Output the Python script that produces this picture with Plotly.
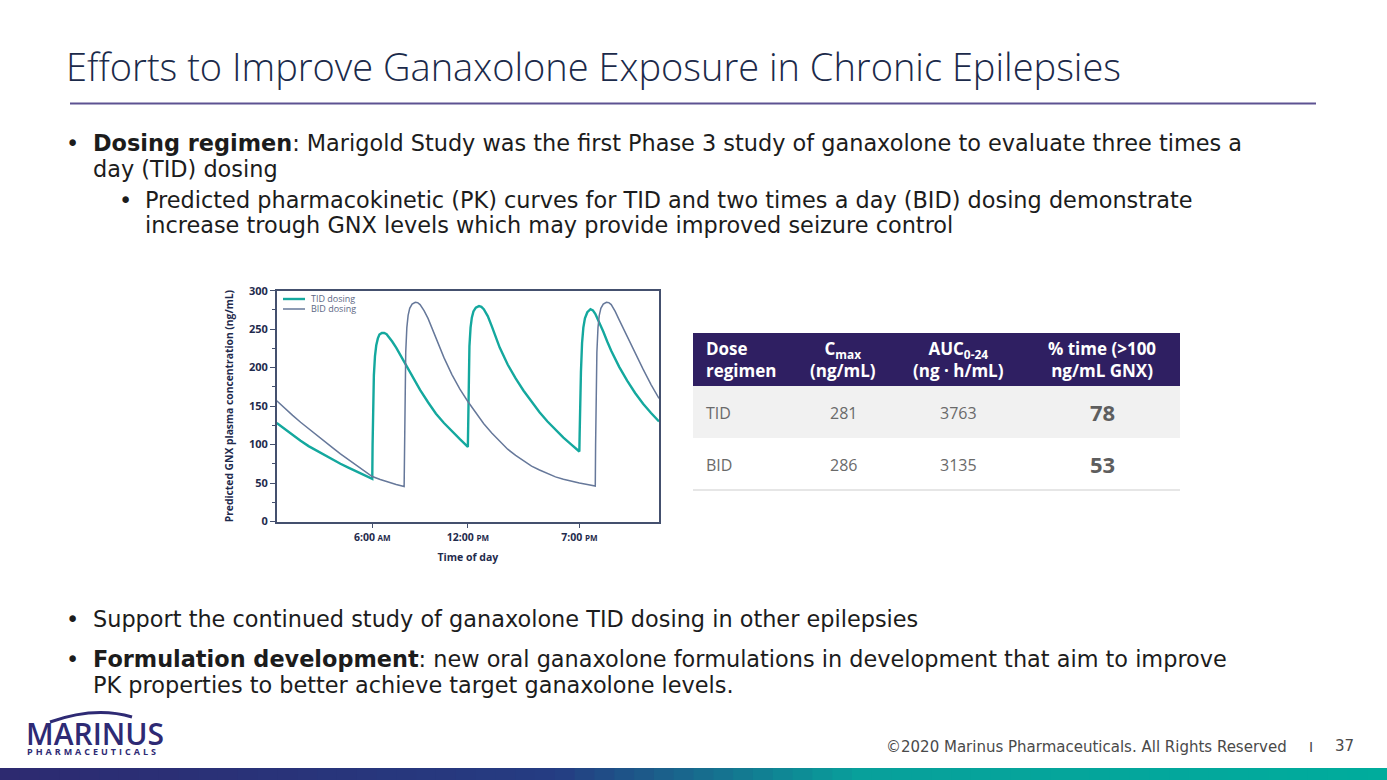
import plotly.graph_objects as go

W, H = 1387, 780

# ---------------- data ----------------
tid_hours = [0, 0.5, 1, 1.5, 2, 2.5, 3, 3.5, 4, 4.5, 5, 5.5, 6.0,
             6.02, 6.05, 6.1, 6.17, 6.25, 6.35, 6.45, 6.6, 6.75, 6.9, 7.05, 7.25, 7.5, 7.75,
             8.0, 8.5, 9.0, 9.5, 10.0, 10.5, 11.0, 11.5, 12.0,
             12.02, 12.05, 12.1, 12.17, 12.25, 12.35, 12.5, 12.7, 12.85, 13.0, 13.25, 13.5,
             13.75, 14.0, 14.5, 15.0, 15.5, 16.0, 16.5, 17.0, 17.5, 18.0, 18.5, 19.0,
             19.02, 19.05, 19.1, 19.17, 19.25, 19.35, 19.5, 19.7, 19.85, 20.0, 20.25, 20.5,
             20.75, 21.0, 21.5, 22.0, 22.5, 23.0, 23.5, 24.0]
tid_conc = [128, 120, 112, 105, 98, 92, 86, 80, 75, 70, 65, 60, 55.5,
            100, 150, 190, 215, 229, 238, 243, 245, 245, 243.5, 240, 234, 226, 217,
            208, 189, 171, 155, 140, 128, 117, 107, 97,
            140, 190, 228, 252, 265, 273, 278, 280, 279, 276, 267, 254,
            240, 226, 204, 186, 170, 156, 142, 130, 119, 109, 100, 91,
            115, 150, 195, 232, 252, 264, 272, 276, 274.5, 270, 259, 247,
            234, 222, 201, 183, 167, 153, 141, 130]

bid_hours = [0, 0.5, 1, 1.5, 2, 2.5, 3, 3.5, 4, 4.5, 5, 5.5, 6, 6.5, 7, 7.5, 8.0,
             8.02, 8.05, 8.1, 8.17, 8.25, 8.35, 8.5, 8.7, 8.85, 9.0, 9.25, 9.5, 9.75,
             10.0, 10.5, 11.0, 11.5, 12.0, 12.5, 13.0, 13.5, 14.0, 14.5, 15.0, 15.5,
             16.0, 16.5, 17.0, 17.5, 18.0, 18.5, 19.0, 19.5, 20.0,
             20.02, 20.05, 20.1, 20.17, 20.25, 20.35, 20.5, 20.7, 20.85, 21.0, 21.25,
             21.5, 21.75, 22.0, 22.5, 23.0, 23.5, 24.0]
bid_conc = [157, 147, 138, 129, 120.5, 112, 104, 96, 88, 80.5, 73, 65, 58.5, 54.5, 51, 48, 45.5,
            100, 165, 220, 252, 268, 277, 282.5, 285, 284.5, 282, 274, 264, 251,
            238, 213, 191, 172, 156, 141, 127, 115, 104, 94, 86, 79,
            72, 67, 62, 58, 55, 52, 50, 48, 46,
            100, 165, 220, 252, 268, 277, 282.5, 285, 284.5, 282, 273,
            262, 251, 240, 219, 198, 178, 160]

series_names = ["TID dosing", "BID dosing"]
y_ticks = [0, 50, 100, 150, 200, 250, 300]
x_tick_hours = [6, 12, 19]
x_tick_labels = ["6:00 <span style='font-size:8px'>AM</span>",
                 "12:00 <span style='font-size:8px'>PM</span>",
                 "7:00 <span style='font-size:8px'>PM</span>"]

table_header = ["Dose<br>regimen", "C<sub>max</sub><br>(ng/mL)",
                "AUC<sub>0-24</sub><br>(ng · h/mL)", "% time (&gt;100<br>ng/mL GNX)"]
regimens = ["TID", "BID"]
cmax = ["281", "286"]
auc = ["3763", "3135"]
pct_time = ["78", "53"]

# ---------------- helpers (page pixels -> paper) ----------------
def X(px):
    return px / W

def Y(py):
    return 1 - py / H

FONT = "Open Sans"
BODY = "DejaVu Sans"
TEXT = "#1c1c1c"
NAVY = "#1f2b4d"
TEAL = "#14a89e"
SLATE = "#66789a"
colors = [TEAL, SLATE]
widths = [2.4, 1.5]

fig = go.Figure()
fig.add_trace(go.Scatter(x=tid_hours, y=tid_conc, mode="lines", name=series_names[0],
                         line=dict(color=colors[0], width=widths[0])))
fig.add_trace(go.Scatter(x=bid_hours, y=bid_conc, mode="lines", name=series_names[1],
                         line=dict(color=colors[1], width=widths[1])))

axis_line = "#44506e"
fig.update_layout(
    width=W, height=H,
    margin=dict(l=0, r=0, t=0, b=0, autoexpand=False),
    paper_bgcolor="white", plot_bgcolor="white",
    font=dict(family=FONT, color=TEXT),
    showlegend=False,
    xaxis=dict(domain=[X(276.7), X(659)], range=[0, 24], showgrid=False, zeroline=False,
               showline=True, linecolor=axis_line, linewidth=1.5, mirror=True,
               tickmode="array", tickvals=x_tick_hours, ticktext=x_tick_labels,
               ticks="outside", ticklen=5, tickcolor=axis_line, tickwidth=1.2,
               tickfont=dict(size=10.5, color=NAVY, family=FONT, weight="bold"),
               title=dict(text="Time of day", standoff=11,
                          font=dict(size=10.5, color=NAVY, family=FONT, weight="bold"))),
    yaxis=dict(domain=[Y(521.5), Y(290.7)], range=[0, 300], showgrid=False, zeroline=False,
               showline=True, linecolor=axis_line, linewidth=1.5, mirror=True,
               tickmode="array", tickvals=y_ticks,
               ticks="outside", ticklen=5, tickcolor=axis_line, tickwidth=1.2,
               minor=dict(dtick=25, ticks="outside", ticklen=2.5, tickcolor=axis_line, tickwidth=1),
               tickfont=dict(size=11, color=NAVY, family=FONT, weight="bold"),
               title=dict(text="Predicted GNX plasma concentration (ng/mL)", standoff=13,
                          font=dict(size=10.3, color=NAVY, family=FONT, weight="bold"))),
)

ann = []
shapes = []

def text(px, py, s, size, color=TEXT, anchor="left", weight="normal", family=BODY, lift=0.0):
    ann.append(dict(x=X(px), y=Y(py - lift * size), xref="paper", yref="paper", text=s, showarrow=False,
                    xanchor=anchor, yanchor="middle", align=anchor,
                    font=dict(size=size, color=color, family=family, weight=weight)))

# Legend drawn inside the plot frame (top-left)
for i, (nm, col, wd) in enumerate(zip(series_names, colors, widths)):
    ly = 299 + 10 * i
    shapes.append(dict(type="line", xref="paper", yref="paper", x0=X(283), x1=X(305),
                       y0=Y(ly), y1=Y(ly), line=dict(color=col, width=wd)))
    text(309, ly + 1, nm, 9, color="#5b6784", family=FONT, lift=0.2)

# Title + rule
text(64, 68, "Efforts to Improve Ganaxolone Exposure in Chronic Epilepsies", 38,
     color="#1b2a4a", weight=300, family=FONT, lift=0.05)
shapes.append(dict(type="line", xref="paper", yref="paper", x0=X(70), x1=X(1316), y0=Y(103.5), y1=Y(103.5),
                   line=dict(color="#5d5292", width=2)))

# Bullets
BS = 22.4
LB = -0.06
text(64, 142, "•", BS, lift=LB)
text(91, 142, "<b>Dosing regimen</b>: Marigold Study was the first Phase 3 study of ganaxolone to evaluate three times a", BS, lift=LB)
text(91, 168, "day (TID) dosing", BS, lift=LB)
text(117, 199, "•", BS, lift=LB)
text(143, 199, "Predicted pharmacokinetic (PK) curves for TID and two times a day (BID) dosing demonstrate", BS, lift=LB)
text(143, 224, "increase trough GNX levels which may provide improved seizure control", BS, lift=LB)
text(64, 618, "•", BS, lift=LB)
text(91, 618, "Support the continued study of ganaxolone TID dosing in other epilepsies", BS, lift=LB)
text(64, 658, "•", BS, lift=LB)
text(91, 658, "<b>Formulation development</b>: new oral ganaxolone formulations in development that aim to improve", BS, lift=LB)
text(91, 684, "PK properties to better achieve target ganaxolone levels.", BS, lift=LB)

# Table
tx0, tx1 = 693, 1180
shapes.append(dict(type="rect", xref="paper", yref="paper", x0=X(tx0), x1=X(tx1), y0=Y(386), y1=Y(333),
                   fillcolor="#2f1f62", line=dict(width=0), layer="below"))
shapes.append(dict(type="rect", xref="paper", yref="paper", x0=X(tx0), x1=X(tx1), y0=Y(438), y1=Y(386),
                   fillcolor="#f1f1f1", line=dict(width=0), layer="below"))
shapes.append(dict(type="line", xref="paper", yref="paper", x0=X(tx0), x1=X(tx1), y0=Y(490), y1=Y(490),
                   line=dict(color="#e6e6e6", width=2)))
col_x = [704, 843, 958, 1102]
col_anchor = ["left", "center", "center", "center"]
for cx, an, h in zip(col_x, col_anchor, table_header):
    text(cx, 362, h, 17, color="white", anchor=an, weight="bold", family=FONT, lift=0.15)
row_y = [413, 465]
for ry, r, c, a, p in zip(row_y, regimens, cmax, auc, pct_time):
    text(704, ry, r, 16, color="#6a6a6a", anchor="left", family=FONT, lift=0.02)
    text(843, ry, c, 16, color="#6a6a6a", anchor="center", family=FONT, lift=0.02)
    text(958, ry, a, 16, color="#6a6a6a", anchor="center", family=FONT, lift=0.02)
    text(1102, ry, p, 22, color="#5e5e5e", anchor="center", weight="bold", family=FONT, lift=0.05)

# Footer
text(884, 746, "©2020 Marinus Pharmaceuticals. All Rights Reserved", 15, color="#4a4a4a", lift=-0.05)
text(1311, 746, "I", 14, color="#4a4a4a", anchor="center", lift=-0.05)
text(1344, 745, "37", 15, color="#4a4a4a", anchor="center", lift=-0.05)

# Logo
text(24, 733, "MARINUS", 30, color="#2e2a74", weight=600, family=FONT, lift=-0.02)
shapes.append(dict(type="path", xref="paper", yref="paper",
                   path=f"M {X(50)},{Y(722)} Q {X(95)},{Y(706)} {X(132)},{Y(717)}",
                   line=dict(color="#2e2a74", width=3)))
text(25, 751, "\u2009\u2009".join("PHARMACEUTICALS"), 9, color="#2e2a74", weight="bold", family=FONT)

# Bottom gradient band
def lerp(c1, c2, t):
    return tuple(round(a + (b - a) * t) for a, b in zip(c1, c2))

stops = [(0.0, (45, 42, 112)), (0.40, (37, 60, 130)), (0.62, (8, 160, 155)), (1.0, (0, 172, 156))]
N = 70
for i in range(N):
    t = (i + 0.5) / N
    for (a, ca), (b, cb) in zip(stops[:-1], stops[1:]):
        if a <= t <= b:
            c = lerp(ca, cb, (t - a) / (b - a))
            break
    shapes.append(dict(type="rect", xref="paper", yref="paper", x0=i / N, x1=(i + 1) / N + 0.001,
                       y0=0, y1=Y(768), fillcolor="rgb(%d,%d,%d)" % c, line=dict(width=0)))

fig.update_layout(annotations=ann, shapes=shapes)
fig.write_html("out.html", config={"displayModeBar": False},
               post_script="document.body.style.margin='0px';document.body.style.overflow='hidden';")
